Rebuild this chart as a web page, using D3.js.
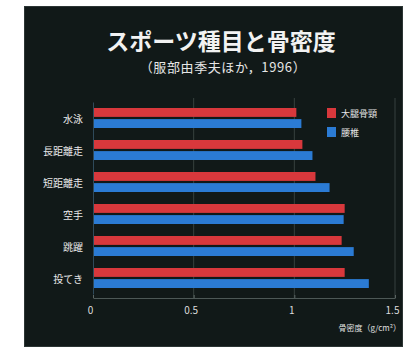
<!DOCTYPE html>
<html>
<head>
<meta charset="utf-8">
<script src="https://cdn.jsdelivr.net/npm/d3@7"></script>
<style>
  html, body { margin: 0; padding: 0; background: #ffffff; }
  svg { display: block; }
  text { font-family: "Noto Sans CJK JP", "Noto Sans", sans-serif; }
</style>
</head>
<body>
<svg id="chart" width="407" height="351"></svg>
<script>
// Sports and bone mineral density (g/cm²)
const categories = ["水泳", "長距離走", "短距離走", "空手", "跳躍", "投てき"];
const seriesNames = ["大腿骨頸", "腰椎"];
const femoralNeck = [1.01, 1.04, 1.105, 1.25, 1.235, 1.25];
const lumbarSpine = [1.035, 1.09, 1.175, 1.245, 1.295, 1.37];
const xTicks = [0, 0.5, 1, 1.5];
const xTickLabels = ["0", "0.5", "1", "1.5"];
const colors = ["#d8383c", "#2b7bd4"];

const svg = d3.select("#chart");

// dark panel
svg.append("rect")
  .attr("x", 24.5).attr("y", 6.5)
  .attr("width", 378).attr("height", 340)
  .attr("fill", "#111918")
  .attr("stroke", "#2c3534").attr("stroke-width", 1);

// titles
svg.append("text")
  .attr("x", 221).attr("y", 50)
  .attr("text-anchor", "middle")
  .attr("fill", "#f2f2f2")
  .attr("font-size", 23).attr("font-weight", "bold")
  .text("スポーツ種目と骨密度");
svg.append("text")
  .attr("x", 223).attr("y", 72)
  .attr("text-anchor", "middle")
  .attr("fill", "#e6e6e6")
  .attr("font-size", 13).attr("letter-spacing", 0.6)
  .text("（服部由季夫ほか，1996）");

// scales
const x = d3.scaleLinear().domain([0, 1.5]).range([93, 395]);
const y = d3.scaleBand().domain(categories).range([102, 294]);
const inner = d3.scaleBand().domain(seriesNames).range([y.bandwidth() / 2 - 10, y.bandwidth() / 2 + 10]).paddingInner(0.2);

// vertical grid lines
svg.append("g").selectAll("line")
  .data(xTicks.slice(1))
  .join("line")
  .attr("x1", d => x(d)).attr("x2", d => x(d))
  .attr("y1", 98).attr("y2", 298)
  .attr("stroke", "#37403e").attr("stroke-width", 1);

// bars
const rows = categories.map((c, i) => ({ cat: c, values: [femoralNeck[i], lumbarSpine[i]] }));
const groups = svg.append("g").selectAll("g")
  .data(rows)
  .join("g")
  .attr("transform", d => `translate(0,${y(d.cat)})`);
groups.selectAll("rect")
  .data(d => d.values.map((v, k) => ({ name: seriesNames[k], value: v, k })))
  .join("rect")
  .attr("x", x(0))
  .attr("y", d => inner(d.name))
  .attr("width", d => x(d.value) - x(0))
  .attr("height", inner.bandwidth())
  .attr("fill", d => colors[d.k]);

// x axis
const xAxis = d3.axisBottom(x)
  .tickValues(xTicks)
  .tickFormat((d, i) => xTickLabels[i])
  .tickSize(0)
  .tickPadding(9);
const gx = svg.append("g").attr("transform", "translate(0,298)").call(xAxis);
gx.select(".domain").attr("stroke", "#4d5856");
gx.selectAll("text").attr("fill", "#dcdcdc").attr("font-size", 10).attr("dx", -3);
gx.selectAll(".tick").append("line")
  .attr("y1", 0).attr("y2", -3).attr("stroke", "#5a6462");

// y axis
const yAxis = d3.axisLeft(y).tickSize(0).tickPadding(10);
const gy = svg.append("g").attr("transform", `translate(${x(0)},0)`).call(yAxis);
gy.select(".domain").attr("stroke", "#2f4a5a");
gy.selectAll("text").attr("fill", "#e8e8e8").attr("font-size", 10).attr("dy", "0.45em");

// axis title
svg.append("text")
  .attr("x", 401).attr("y", 331)
  .attr("text-anchor", "end")
  .attr("fill", "#e0e0e0")
  .attr("font-size", 8)
  .text("骨密度（g/cm²）");

// legend
const legend = svg.append("g").selectAll("g")
  .data(seriesNames)
  .join("g")
  .attr("transform", (d, i) => `translate(327,${108 + i * 19})`);
legend.append("rect")
  .attr("width", 9).attr("height", 10)
  .attr("fill", (d, i) => colors[i]);
legend.append("text")
  .attr("x", 14).attr("y", 9)
  .attr("fill", "#e6e6e6")
  .attr("font-size", 9)
  .text(d => d);
</script>
</body>
</html>
